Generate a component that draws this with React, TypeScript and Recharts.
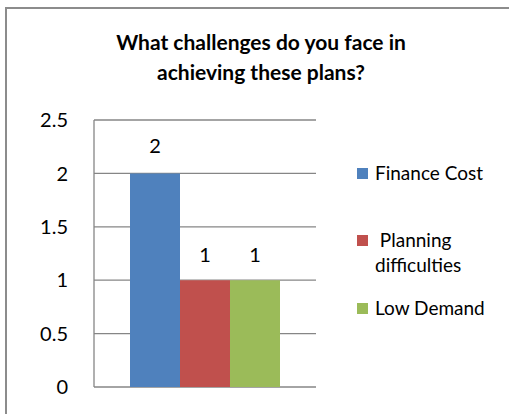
import React from "react";
import {
  BarChart,
  Bar,
  XAxis,
  YAxis,
  CartesianGrid,
  Legend,
  LabelList,
} from "recharts";

// chart values
const categories = [""];
const financeCost = [2];
const planningDifficulties = [1];
const lowDemand = [1];
const yTicks = [0, 0.5, 1, 1.5, 2, 2.5];

const seriesNames = ["Finance Cost", " Planning difficulties", "Low Demand"];
const COLORS = ["#4F81BD", "#C0504D", "#9BBB59"];

const data = categories.map((c, i) => ({
  name: c,
  finance: financeCost[i],
  planning: planningDifficulties[i],
  demand: lowDemand[i],
}));

const FONT = "Lato, 'Open Sans', sans-serif";
const LEGEND_W = 140;

const renderLegend = () => {
  const tops = [160, 227, 295];
  return (
    <div style={{ position: "relative", width: LEGEND_W, height: 414 }}>
      {seriesNames.map((n, i) => (
        <div
          key={n}
          style={{
            position: "absolute",
            left: 0,
            top: tops[i],
            display: "flex",
            alignItems: "flex-start",
            fontFamily: FONT,
            fontSize: 19,
            color: "#000",
            lineHeight: "25px",
          }}
        >
          <span
            style={{
              display: "inline-block",
              width: 11,
              height: 11,
              background: COLORS[i],
              marginTop: 8,
              marginRight: 7,
              flexShrink: 0,
            }}
          />
          <span style={{ whiteSpace: "pre", width: 120 }}>
            {i === 1 ? " Planning\ndifficulties" : n}
          </span>
        </div>
      ))}
    </div>
  );
};

const App = () => {
  return (
    <div
      style={{
        position: "absolute",
        left: 0,
        top: 0,
        width: 509,
        height: 414,
        background: "#fff",
        overflow: "hidden",
      }}
    >
      <div
        style={{
          position: "absolute",
          left: 5,
          top: 7,
          width: 520,
          height: 420,
          borderLeft: "2px solid #8c8c8c",
          borderTop: "2px solid #8c8c8c",
        }}
      />
      <div
        style={{
          position: "absolute",
          left: 0,
          top: 27,
          width: 522,
          textAlign: "center",
          fontFamily: FONT,
          fontWeight: 700,
          fontSize: 21,
          lineHeight: "30px",
          color: "#000",
        }}
      >
        What challenges do you face in
        <br />
        achieving these plans?
      </div>
      <div style={{ position: "absolute", left: 0, top: 0 }}>
        <BarChart
          width={509}
          height={414}
          data={data}
          margin={{ top: 120, right: 193 - LEGEND_W, bottom: 27, left: 0 }}
          barGap={0}
          barSize={50}
        >
          <CartesianGrid
            vertical={false}
            stroke="#868686"
            strokeWidth={1.3}
          />
          <XAxis dataKey="name" hide />
          <YAxis
            width={94}
            domain={[0, 2.5]}
            ticks={yTicks}
            interval={0}
            axisLine={{ stroke: "#868686", strokeWidth: 1.3 }}
            tickLine={false}
            tickSize={6}
            tickMargin={20}
            tick={{ fill: "#000", fontSize: 20, fontFamily: FONT }}
          />
          <Legend
            layout="vertical"
            align="right"
            verticalAlign="top"
            content={renderLegend}
            wrapperStyle={{ left: 357, top: 0, width: LEGEND_W }}
          />
          <Bar dataKey="finance" name={seriesNames[0]} fill={COLORS[0]} isAnimationActive={false}>
            <LabelList dataKey="finance" position="top" offset={20} fill="#000" fontSize={20} fontFamily={FONT} />
          </Bar>
          <Bar dataKey="planning" name={seriesNames[1]} fill={COLORS[1]} isAnimationActive={false}>
            <LabelList dataKey="planning" position="top" offset={18} fill="#000" fontSize={20} fontFamily={FONT} />
          </Bar>
          <Bar dataKey="demand" name={seriesNames[2]} fill={COLORS[2]} isAnimationActive={false}>
            <LabelList dataKey="demand" position="top" offset={18} fill="#000" fontSize={20} fontFamily={FONT} />
          </Bar>
        </BarChart>
      </div>
    </div>
  );
};

export default App;
